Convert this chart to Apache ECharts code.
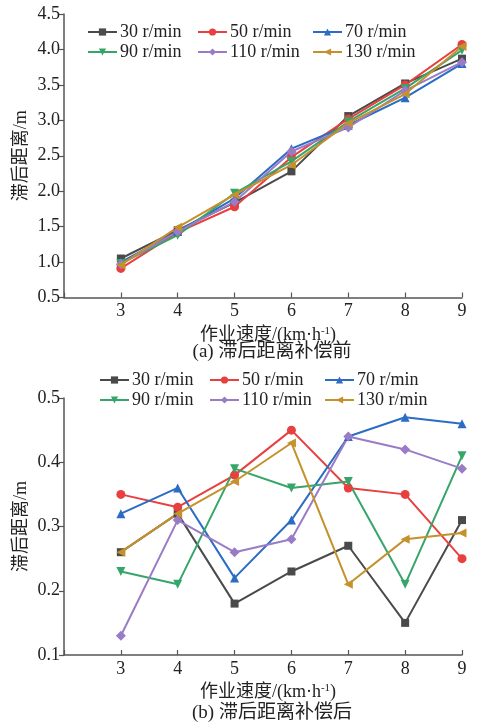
<!DOCTYPE html>
<html><head><meta charset="utf-8">
<script src="https://cdn.jsdelivr.net/npm/echarts@6/dist/echarts.min.js"></script>
<style>html,body{margin:0;padding:0;background:#fff}#c{width:477px;height:726px}</style>
</head><body><div id="c"></div>
<script>
const speeds = [3, 4, 5, 6, 7, 8, 9];
const seriesNames = ['30 r/min', '50 r/min', '70 r/min', '90 r/min', '110 r/min', '130 r/min'];
// (a) before compensation
const before30 = [1.05, 1.45, 1.84, 2.28, 3.06, 3.52, 3.87];
const before50 = [0.91, 1.42, 1.78, 2.48, 3.02, 3.50, 4.07];
const before70 = [1.00, 1.43, 1.90, 2.60, 2.93, 3.32, 3.80];
const before90 = [0.98, 1.38, 1.97, 2.42, 2.98, 3.45, 3.99];
const before110 = [0.97, 1.43, 1.85, 2.56, 2.90, 3.42, 3.82];
const before130 = [0.96, 1.49, 1.95, 2.37, 2.96, 3.37, 4.04];
// (b) after compensation
const after30 = [0.26, 0.32, 0.18, 0.23, 0.27, 0.15, 0.31];
const after50 = [0.35, 0.33, 0.38, 0.45, 0.36, 0.35, 0.25];
const after70 = [0.32, 0.36, 0.22, 0.31, 0.44, 0.47, 0.46];
const after90 = [0.23, 0.21, 0.39, 0.36, 0.37, 0.21, 0.41];
const after110 = [0.13, 0.31, 0.26, 0.28, 0.44, 0.42, 0.39];
const after130 = [0.26, 0.32, 0.37, 0.43, 0.21, 0.28, 0.29];
const yTicksA = ['0.5','1.0','1.5','2.0','2.5','3.0','3.5','4.0','4.5'];
const yTicksB = ['0.1','0.2','0.3','0.4','0.5'];

const beforeData = [before30, before50, before70, before90, before110, before130];
const afterData = [after30, after50, after70, after90, after110, after130];
const colors = ['#4a4a4a', '#e8403f', '#2b6cc4', '#36a56a', '#9a7bc6', '#c4912c'];
const symbols = ['rect', 'circle', 'triangle', 'path://M0,0 L10,0 L5,9 Z', 'diamond', 'path://M0,5 L9,0 L9,10 Z'];
const symSizes = [8, 9, 9, 9, 10, 9];

const FONT = '"Liberation Serif", "Noto Sans CJK SC", serif';
const ink = '#222';
const axisCol = '#555';

function xAxis(gi) {
  return {
    gridIndex: gi, type: 'value', min: 2, max: 9, interval: 1,
    axisLine: { show: true, lineStyle: { color: axisCol, width: 1.5 } },
    axisTick: { show: true, inside: true, length: 5, lineStyle: { color: axisCol, width: 1.2 } },
    splitLine: { show: false },
    axisLabel: { color: ink, fontFamily: FONT, fontSize: 18, margin: 5,
      formatter: v => (speeds.indexOf(v) >= 0 ? String(v) : '') },
    name: '作业速度/(km·h{s|-1})', nameLocation: 'middle', nameGap: 28, nameMoveOverlap: false,
    nameTextStyle: { color: ink, fontFamily: FONT, fontSize: 18, padding: [0, 0, 0, 10],
      rich: { s: { fontSize: 11, verticalAlign: 'top', fontFamily: FONT, color: ink, padding: [0,0,8,0] } } }
  };
}
function yAxis(gi, min, max, interval, ticks) {
  return {
    gridIndex: gi, type: 'value', min: min, max: max, interval: interval,
    axisLine: { show: true, lineStyle: { color: axisCol, width: 1.5 } },
    axisTick: { show: true, inside: false, length: 5, lineStyle: { color: axisCol, width: 1.2 } },
    splitLine: { show: false },
    axisLabel: { color: ink, fontFamily: FONT, fontSize: 18, margin: 4,
      formatter: v => { const s = v.toFixed(1); return ticks.indexOf(s) >= 0 ? s : ''; } },
    name: '滞后距离/m', nameLocation: 'middle', nameGap: 34, nameMoveOverlap: false,
    nameTextStyle: { color: ink, fontFamily: FONT, fontSize: 18 }
  };
}

const series = [];
[beforeData, afterData].forEach((set, gi) => {
  set.forEach((vals, i) => {
    series.push({
      name: seriesNames[i], type: 'line', xAxisIndex: gi, yAxisIndex: gi,
      data: speeds.map((s, k) => [s, vals[k]]),
      symbol: symbols[i], symbolSize: symSizes[i],
      lineStyle: { color: colors[i], width: 2 },
      itemStyle: { color: colors[i] },
      emphasis: { disabled: true }, animation: false
    });
  });
});

const legendPos = [
  [[87, 23], [197, 23], [312, 23], [87, 43], [197, 43], [312, 43]],
  [[99, 371], [209, 371], [324, 371], [99, 391], [209, 391], [324, 391]]
];
const legends = [];
legendPos.forEach(rows => rows.forEach((p, i) => {
  legends.push({
    data: [seriesNames[i]],
    left: p[0], top: p[1], itemWidth: 29, itemHeight: 9, itemGap: 0, padding: 0,
    selectedMode: false,
    textStyle: { color: ink, fontFamily: FONT, fontSize: 18, padding: [2, 0, 0, -2] }
  });
}));

const chart = echarts.init(document.getElementById('c'), null, { renderer: 'canvas' });
chart.setOption({
  animation: false,
  color: colors,
  grid: [
    { left: 64, right: 15, top: 14, height: 283.5 },
    { left: 64, right: 15, top: 398, height: 257 }
  ],
  xAxis: [xAxis(0), xAxis(1)],
  yAxis: [yAxis(0, 0.5, 4.5, 0.5, yTicksA), yAxis(1, 0.1, 0.5, 0.1, yTicksB)],
  legend: legends,
  title: [
    { text: '(a) 滞后距离补偿前', left: 272, top: 343, textAlign: 'center', padding: 0,
      textStyle: { color: ink, fontFamily: FONT, fontSize: 19, fontWeight: 'normal' } },
    { text: '(b) 滞后距离补偿后', left: 272, top: 704, textAlign: 'center', padding: 0,
      textStyle: { color: ink, fontFamily: FONT, fontSize: 19, fontWeight: 'normal' } }
  ],
  series: series
});
</script></body></html>
